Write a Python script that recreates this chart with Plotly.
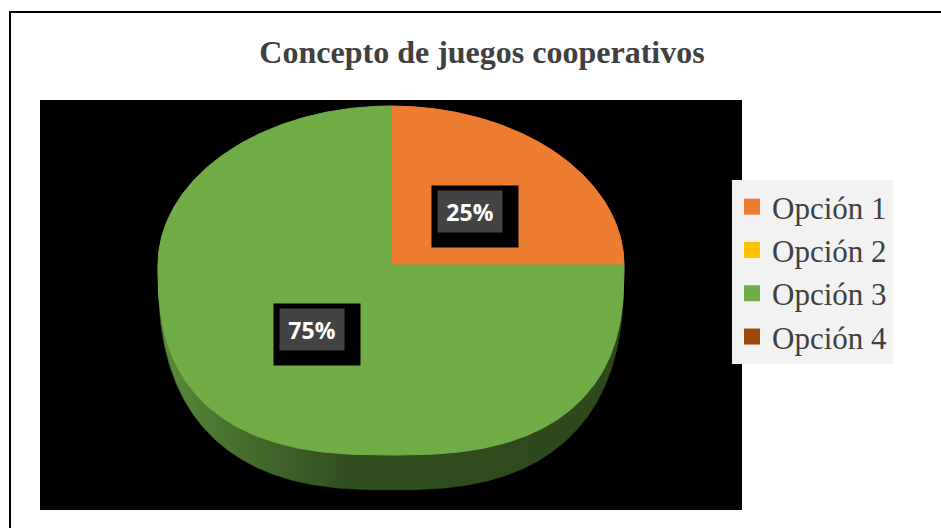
import numpy as np
import plotly.graph_objects as go

# ---------------- data ----------------
categories = ["Opción 1", "Opción 2", "Opción 3", "Opción 4"]
values = [25, 0, 75, 0]
colors = ["#ED7D31", "#FFC000", "#70AD47", "#9E480E"]
title_text = "Concepto de juegos cooperativos"

# ---------------- layout geometry (pixels) ----------------
W, H = 941, 528
PL, PR, PT, PB = 40, 742, 100, 510      # black plot area
CX, CY = 391, 265                        # projected pie centre
RX = 233
RY_FAR = 159
RY_NEAR = 190
DEPTH = 35
N_NEAR = 2.6


def face_xy(t_deg, depth=0.0):
    t = np.radians(t_deg)
    c, s = np.cos(t), np.sin(t)
    near = s < 0
    n = np.where(near, N_NEAR, 2.0)
    ry = np.where(near, RY_NEAR + depth, RY_FAR)
    x = CX + RX * np.sign(c) * np.abs(c) ** (2 / n)
    y = CY - ry * np.sign(s) * np.abs(s) ** (2 / n)
    return x, y


def label_xy(t_deg, f=0.5):
    t = np.radians(t_deg)
    c, s = np.cos(t), np.sin(t)
    ry = RY_NEAR if s < 0 else RY_FAR
    return CX + f * RX * c, CY - f * ry * s


fig = go.Figure()
total = float(sum(values))

# slice angles (start at 12 o'clock, clockwise)
angles = []
start = 90.0
for v in values:
    end = start - 360.0 * v / total
    angles.append((start, end))
    start = end

# side walls (near half only)
for (a0, a1), v, col in zip(angles, values, colors):
    if v <= 0:
        continue
    ts = np.linspace(a1, a0, 600)
    mask = np.sin(np.radians(ts)) <= 1e-9
    idx = np.where(mask)[0]
    if len(idx) == 0:
        continue
    runs = np.split(idx, np.where(np.diff(idx) != 1)[0] + 1)
    for r in runs:
        tt = ts[r]
        xt, yt = face_xy(tt)
        xb, yb = face_xy(tt[::-1], depth=DEPTH)
        xs = np.concatenate([xt, xb, xt[:1]])
        ys = np.concatenate([yt, yb, yt[:1]])
        fig.add_trace(go.Scatter(
            x=xs, y=ys, mode="lines", fill="toself",
            line=dict(color="#2f4b1f", width=0.5),
            fillgradient=dict(type="horizontal",
                              colorscale=[[0, "#5c8d3a"], [0.12, "#4b7731"],
                                          [0.4, "#314f20"], [1, "#2d481c"]]),
            showlegend=False, hoverinfo="skip"))

# top faces
for (a0, a1), v, col in zip(angles, values, colors):
    if v <= 0:
        continue
    ts = np.linspace(a0, a1, 400)
    xa, ya = face_xy(ts)
    xs = np.concatenate([[CX], xa, [CX]])
    ys = np.concatenate([[CY], ya, [CY]])
    fig.add_trace(go.Scatter(
        x=xs, y=ys, mode="lines", fill="toself",
        fillcolor=col, line=dict(color=col, width=1),
        showlegend=False, hoverinfo="skip"))

# legend entries
for name, col in zip(categories, colors):
    fig.add_trace(go.Scatter(
        x=[None], y=[None], mode="markers", name=name,
        marker=dict(symbol="square", size=16, color=col, line=dict(width=0)),
        showlegend=True, hoverinfo="skip"))

# data labels
annotations = []
for (a0, a1), v in zip(angles, values):
    if v <= 0:
        continue
    mid = (a0 + a1) / 2
    lx, ly = label_xy(mid, f=0.48)
    pct = int(round(100 * v / total))
    annotations.append(dict(x=lx, y=ly, xref="x", yref="y", text=" ",
                            showarrow=False, width=86, height=61,
                            bgcolor="black", borderpad=0,
                            xshift=5, yshift=-5))
    annotations.append(dict(x=lx, y=ly, xref="x", yref="y",
                            text=f"<b>{pct}%</b>", showarrow=False,
                            font=dict(family="Open Sans", size=23, color="white"),
                            bgcolor="#434343", width=52, height=29, borderpad=6))

pw, ph = PR - PL, PB - PT
fig.update_layout(
    width=W, height=H,
    margin=dict(l=PL, r=W - PR, t=PT, b=H - PB, pad=0),
    paper_bgcolor="white",
    plot_bgcolor="black",
    xaxis=dict(range=[PL, PR], visible=False, fixedrange=True),
    yaxis=dict(range=[PB, PT], visible=False, fixedrange=True),
    title=dict(text=f"<b>{title_text}</b>", x=482 / W, xanchor="center",
               y=1 - 52 / H, yanchor="middle",
               font=dict(family="Liberation Serif", size=32, color="#404040")),
    legend=dict(x=(732 - PL) / pw, y=1 - (180 - PT) / ph,
                xanchor="left", yanchor="top",
                bgcolor="#F2F2F2", borderwidth=0,
                font=dict(family="Liberation Serif", size=31, color="#404040"),
                tracegroupgap=0, itemsizing="trace"),
    annotations=annotations,
    shapes=[dict(type="rect", xref="paper", yref="paper",
                 x0=(10 - PL) / pw, x1=(960 - PL) / pw,
                 y0=1 - (560 - PT) / ph, y1=1 - (12 - PT) / ph,
                 line=dict(color="black", width=2), fillcolor="rgba(0,0,0,0)",
                 layer="above")],
    showlegend=True,
)

fig.write_html("out.html",
               config={"displayModeBar": False},
               post_script="document.body.style.margin='0';document.body.style.padding='0';")
